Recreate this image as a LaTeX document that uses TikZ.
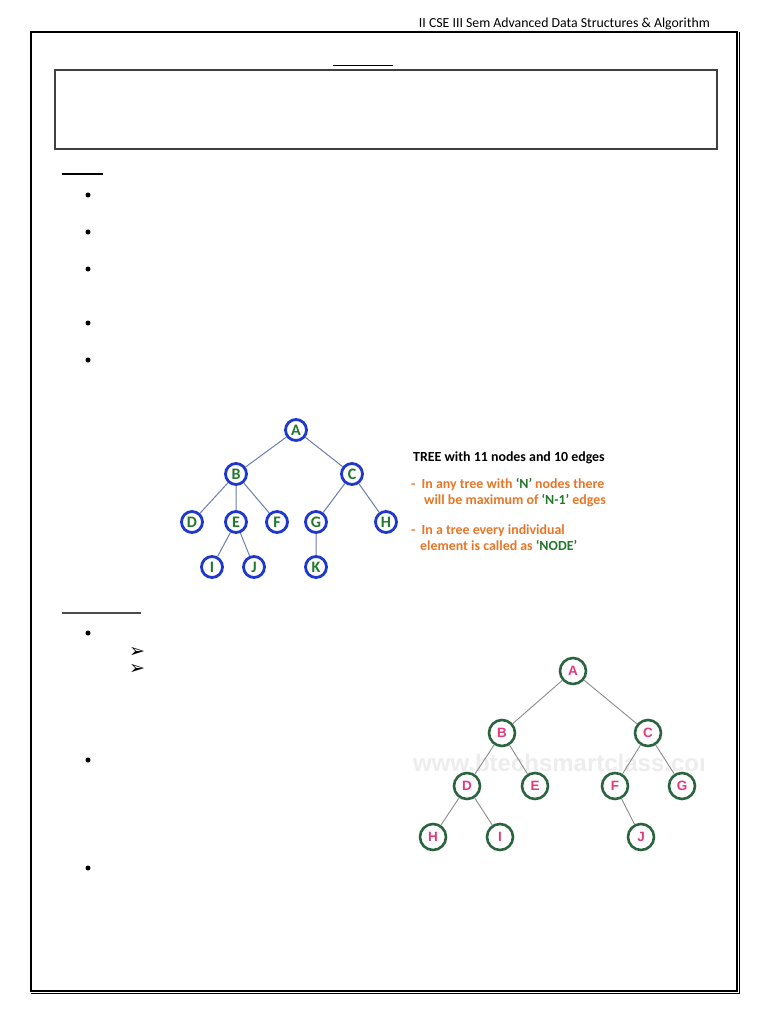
\documentclass[tikz,border=0pt]{standalone}
\usepackage{fontspec}
\setmainfont{Carlito}
\newfontfamily\dejavu{DejaVu Sans}
\newfontfamily\libsans{Liberation Sans}
\definecolor{tblue}{RGB}{30,55,205}
\definecolor{tgreen}{RGB}{35,120,45}
\definecolor{tedge}{RGB}{110,125,175}
\definecolor{torange}{RGB}{232,118,40}
\definecolor{dgreen}{RGB}{42,100,62}
\definecolor{tpink}{RGB}{225,60,120}
\definecolor{gedge}{RGB}{140,140,140}
\begin{document}
\begin{tikzpicture}[x=1pt,y=-1pt,
  bnode/.style={circle,draw=tblue,line width=2.8pt,minimum size=21pt,inner sep=0pt,fill=white,
    font=\fontsize{16}{16}\selectfont\bfseries,text=tgreen},
  gnode/.style={circle,draw=dgreen,line width=2.6pt,minimum size=26pt,inner sep=0pt,fill=white,
    font=\libsans\fontsize{13.5}{13.5}\selectfont\bfseries,text=tpink},
  bedge/.style={draw=tedge,line width=1pt},
  gedge/.style={draw=gedge,line width=0.9pt},
  bul/.style={circle,fill=black,inner sep=0pt,minimum size=5pt},
  arr/.style={font=\dejavu\fontsize{19}{19}\selectfont,inner sep=0pt},
  txt/.style={anchor=base west,inner sep=0pt,font=\fontsize{13.9}{15}\selectfont\bfseries},
  ulin/.style={line width=1.6pt}
]
\useasboundingbox (0,0) rectangle (768,1024);
\fill[white] (0,0) rectangle (768,1024);

% header
\node[anchor=base east,inner sep=0pt,font=\fontsize{13.8}{14}\selectfont] (hdr) at (710,28) {II CSE III Sem Advanced Data Structures \& Algorithm};

% page frame
\draw[line width=2pt] (31,32) rectangle (737,991);
\draw[line width=0.8pt] (739.5,32) -- (739.5,993.5) -- (31,993.5);

% title underline and box
\draw[ulin] (333,65.7) -- (393,65.7);
\draw[line width=1.2pt,draw=black!75] (55,70) rectangle (717,149);
\draw[ulin] (62,174) -- (103,174);
\draw[line width=1.3pt,draw=black!70] (62,613) -- (141,613);

% bullets
\node[bul] (b1) at (88,195) {};
\node[bul] (b2) at (88,232) {};
\node[bul] (b3) at (88,269) {};
\node[bul] (b4) at (88,323) {};
\node[bul] (b5) at (88,360) {};
\node[bul] (b6) at (88,633) {};
\node[arr] (a1) at (137,652) {➢};
\node[arr] (a2) at (137,669) {➢};
\node[bul] (b7) at (88,760) {};
\node[bul] (b8) at (88,868) {};

% tree 1
\node[bnode] (A) at (296,430) {A};
\node[bnode] (B) at (236,474) {B};
\node[bnode] (C) at (352,474) {C};
\node[bnode] (D) at (192,522) {D};
\node[bnode] (E) at (236,522) {E};
\node[bnode] (F) at (277,522) {F};
\node[bnode] (G) at (316,522) {G};
\node[bnode] (H) at (386,522) {H};
\node[bnode] (I) at (212,567) {I};
\node[bnode] (J) at (254,567) {J};
\node[bnode] (K) at (316,567) {K};
\path[bedge] (A) -- (B) (A) -- (C) (B) -- (D) (B) -- (E) (B) -- (F)
  (C) -- (G) (C) -- (H) (E) -- (I) (E) -- (J) (G) -- (K);

% tree 1 text
\node[txt] (t0) at (413,461) {TREE with 11 nodes and 10 edges};
\node[txt,text=torange] (t1) at (411,488) {-\ \ In any tree with \textcolor{tgreen}{‘N’} nodes there};
\node[txt,text=torange] (t2) at (424,504) {will be maximum of \textcolor{tgreen}{‘N-1’} edges};
\node[txt,text=torange] (t3) at (411,534) {-\ \ In a tree every individual};
\node[txt,text=torange] (t4) at (420,550) {element is called as \textcolor{tgreen}{‘NODE’}};

% watermark
\begin{scope}
\clip (405,740) rectangle (703,790);
\node[anchor=west,inner sep=0pt,text=black!7,font=\libsans\fontsize{24}{24}\selectfont\bfseries] (wm) at (413,763) {www.btechsmartclass.com};
\end{scope}

% tree 2
\node[gnode] (A2) at (573,671) {A};
\node[gnode] (B2) at (502,733) {B};
\node[gnode] (C2) at (648,733) {C};
\node[gnode] (D2) at (467,786) {D};
\node[gnode] (E2) at (535,786) {E};
\node[gnode] (F2) at (615,786) {F};
\node[gnode] (G2) at (682,786) {G};
\node[gnode] (H2) at (433,837) {H};
\node[gnode] (I2) at (500,837) {I};
\node[gnode] (J2) at (641,837) {J};
\path[gedge] (A2) -- (B2) (A2) -- (C2) (B2) -- (D2) (B2) -- (E2)
  (C2) -- (F2) (C2) -- (G2) (D2) -- (H2) (D2) -- (I2) (F2) -- (J2);
\end{tikzpicture}
\end{document}
